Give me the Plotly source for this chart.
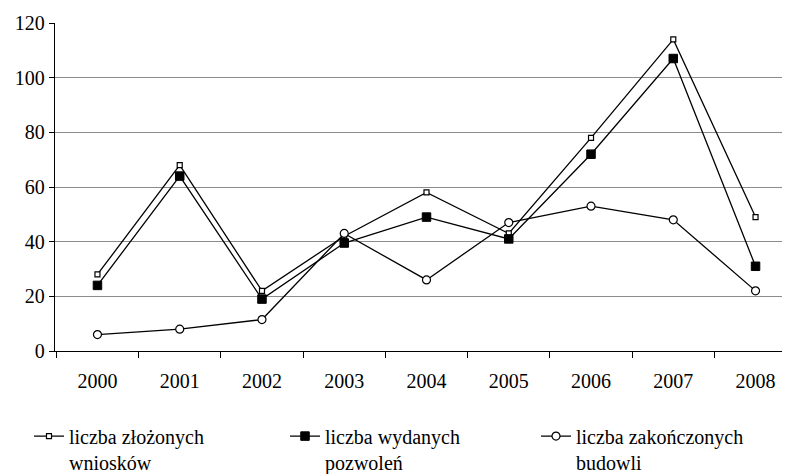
import plotly.graph_objects as go

years = ["2000", "2001", "2002", "2003", "2004", "2005", "2006", "2007", "2008"]
zlozone_wnioski = [28, 68, 22, 42, 58, 43, 78, 114, 49]
wydane_pozwolenia = [24, 64, 19, 39.5, 49, 41, 72, 107, 31]
zakonczone_budowle = [6, 8, 11.5, 43, 26, 47, 53, 48, 22]
names = ["liczba złożonych<br>wniosków", "liczba wydanych<br>pozwoleń", "liczba zakończonych<br>budowli"]
y_ticks = [0, 20, 40, 60, 80, 100, 120]

FONT = "Liberation Serif"
L, W = 47, 743

fig = go.Figure()
fig.add_trace(go.Scatter(
    x=years, y=zlozone_wnioski, name=names[0], mode="lines+markers", legend="legend",
    line=dict(color="black", width=1.3),
    marker=dict(symbol="square", size=5, color="white", line=dict(color="black", width=1.2)),
))
fig.add_trace(go.Scatter(
    x=years, y=wydane_pozwolenia, name=names[1], mode="lines+markers", legend="legend2",
    line=dict(color="black", width=1.3),
    marker=dict(symbol="square", size=8.5, color="black", line=dict(color="black", width=1)),
))
fig.add_trace(go.Scatter(
    x=years, y=zakonczone_budowle, name=names[2], mode="lines+markers", legend="legend3",
    line=dict(color="black", width=1.3),
    marker=dict(symbol="circle", size=8, color="white", line=dict(color="black", width=1.2)),
))

def leg(px):
    return dict(
        x=(px - L) / W, xanchor="left", y=-0.2, yanchor="top", valign="top",
        font=dict(family=FONT, size=20, color="black"), itemwidth=30,
        bgcolor="rgba(0,0,0,0)",
    )

fig.update_layout(
    width=790, height=474,
    margin=dict(l=L, r=0, t=15, b=120),
    paper_bgcolor="white", plot_bgcolor="white",
    font=dict(family=FONT, size=20, color="black"),
    showlegend=True,
    legend=leg(21), legend2=leg(277), legend3=leg(528),
)
fig.update_xaxes(
    type="category", showline=True, linecolor="black", linewidth=1.3,
    ticks="outside", tickson="boundaries", ticklen=6, tickcolor="black",
    showgrid=False, ticklabelstandoff=12,
)
fig.update_yaxes(
    range=[0, 120], tickvals=y_ticks, showline=True, linecolor="black", linewidth=1.3,
    ticks="outside", ticklen=5, tickcolor="black",
    showgrid=True, gridcolor="#8c8c8c", gridwidth=1, zeroline=False,
)

fig.write_html("out.html")
